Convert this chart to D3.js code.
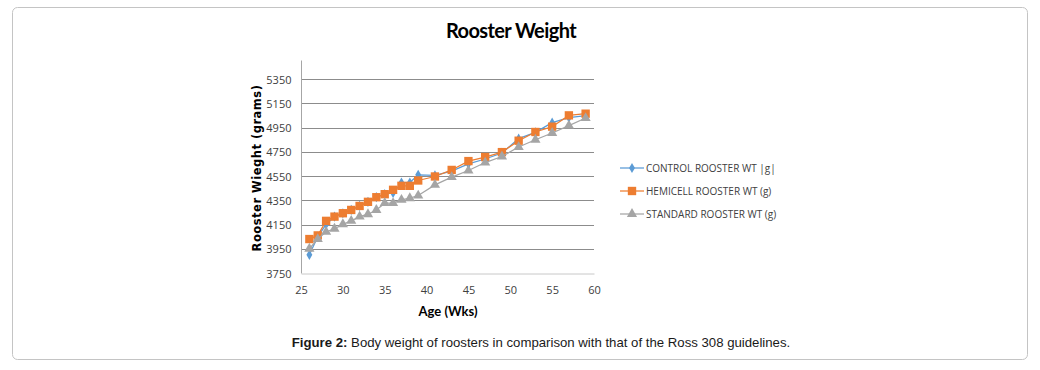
<!DOCTYPE html>
<html>
<head>
<meta charset="utf-8">
<style>
  body { margin: 0; background: #fff; }
  .grid line { stroke: #8c8c8c; stroke-width: 1; }
  .tick text { font-family: "Open Sans", Arial, sans-serif; font-size: 11px; fill: #404040; }
  .legend text { font-family: "Open Sans", Arial, sans-serif; font-size: 10px; fill: #404040; }
</style>
</head>
<body>
<svg id="chart"></svg>
<script src="https://cdn.jsdelivr.net/npm/d3@7"></script>
<script>
  let width = 1040, height = 370;

  let weeks    = [26, 27, 28, 29, 30, 31, 32, 33, 34, 35, 36, 37, 38, 39, 41, 43, 45, 47, 49, 51, 53, 55, 57, 59];
  let control  = [3900, 4050, 4150, 4215, 4243, 4270, 4303, 4337, 4375, 4400, 4410, 4496, 4496, 4560, 4555, 4590, 4650, 4690, 4740, 4858, 4910, 4990, 5032, 5048];
  let hemicell = [4030, 4060, 4180, 4215, 4243, 4270, 4303, 4337, 4375, 4400, 4436, 4469, 4469, 4513, 4546, 4600, 4673, 4706, 4747, 4841, 4913, 4957, 5050, 5064];
  let standard = [3950, 4030, 4090, 4115, 4152, 4180, 4215, 4235, 4270, 4326, 4326, 4353, 4367, 4389, 4477, 4541, 4595, 4661, 4711, 4789, 4849, 4905, 4965, 5028];

  let yTicks = [3750, 3950, 4150, 4350, 4550, 4750, 4950, 5150, 5350];
  let xTicks = [25, 30, 35, 40, 45, 50, 55, 60];

  let seriesNames = ["CONTROL ROOSTER WT |g|", "HEMICELL ROOSTER WT (g)", "STANDARD ROOSTER WT (g)"];
  let seriesColors = ["#5b9bd5", "#ed7d31", "#a5a5a5"];
  let seriesShapes = [d3.symbolDiamond, d3.symbolSquare, d3.symbolTriangle];
  let seriesSizes = [30, 70, 45];

  let svg = d3.select("#chart").attr("width", width).attr("height", height);

  // outer frame
  svg.append("rect")
    .attr("x", 12.5).attr("y", 7.5).attr("width", 1015).attr("height", 352)
    .attr("rx", 5).attr("fill", "none").attr("stroke", "#c4c4c4");

  let x = d3.scaleLinear().domain([25, 60]).range([301, 594]);
  let y = d3.scaleLinear().domain([3750, 5350]).range([273, 79]);

  // title
  svg.append("text")
    .attr("x", 511).attr("y", 38).attr("text-anchor", "middle")
    .style("font-family", "Lato, 'Open Sans', sans-serif")
    .style("font-weight", "bold").style("font-size", "20px")
    .style("letter-spacing", "-0.6px")
    .text("Rooster Weight");

  // gridlines
  svg.append("g").attr("class", "grid")
    .selectAll("line").data(yTicks.slice(1)).enter().append("line")
    .attr("x1", x(25)).attr("x2", x(60))
    .attr("y1", d => Math.round(y(d)) + 0.5).attr("y2", d => Math.round(y(d)) + 0.5);

  // y axis
  let yAxis = svg.append("g")
    .attr("transform", "translate(" + (x(25) + 0.5) + ",0.5)")
    .call(d3.axisLeft(y).tickValues(yTicks).tickFormat(d3.format("d")).tickSize(0).tickPadding(10));
  yAxis.select(".domain").attr("d", "M0,60V" + y(3750)).attr("stroke", "#a6a6a6");

  // x axis
  let xAxis = svg.append("g")
    .attr("transform", "translate(0," + (Math.round(y(3750)) + 0.5) + ")")
    .call(d3.axisBottom(x).tickValues(xTicks).tickFormat(d3.format("d")).tickSize(0).tickPadding(13));
  xAxis.select(".domain").attr("stroke", "#c8c8c8");

  // axis titles
  svg.append("text")
    .attr("x", 448).attr("y", 316).attr("text-anchor", "middle")
    .style("font-family", "Lato, 'Open Sans', sans-serif")
    .style("font-weight", "bold").style("font-size", "13px")
    .text("Age (Wks)");

  svg.append("text")
    .attr("transform", "translate(261,168) rotate(-90)")
    .attr("text-anchor", "middle")
    .style("font-family", "'DejaVu Sans', Verdana, sans-serif")
    .style("font-weight", "bold").style("font-size", "11.5px")
    .style("letter-spacing", "0.5px")
    .text("Rooster Wieght (grams)");

  // series
  let allSeries = [control, hemicell, standard];
  let line = d3.line().x(d => x(d.w)).y(d => y(d.v));

  allSeries.forEach((vals, i) => {
    let pts = weeks.map((w, j) => ({ w: w, v: vals[j] }));
    let g = svg.append("g");
    g.append("path").datum(pts)
      .attr("d", line).attr("fill", "none")
      .attr("stroke", seriesColors[i]).attr("stroke-width", 1.25);
    g.selectAll("path.pt").data(pts).enter().append("path")
      .attr("class", "pt")
      .attr("d", d3.symbol().type(seriesShapes[i]).size(seriesSizes[i]))
      .attr("transform", d => "translate(" + x(d.w) + "," + y(d.v) + ")")
      .attr("fill", seriesColors[i]);
  });

  // legend
  let legend = svg.append("g").attr("class", "legend");
  seriesNames.forEach((name, i) => {
    let ly = 168 + i * 23;
    legend.append("line")
      .attr("x1", 620).attr("x2", 644).attr("y1", ly).attr("y2", ly)
      .attr("stroke", seriesColors[i]).attr("stroke-width", 1.25);
    legend.append("path")
      .attr("d", d3.symbol().type(seriesShapes[i]).size(seriesSizes[i]))
      .attr("transform", "translate(632," + ly + ")")
      .attr("fill", seriesColors[i]);
    legend.append("text")
      .attr("x", 646).attr("y", ly + 3.5)
      .text(name);
  });

  // caption
  let cap = svg.append("text")
    .attr("x", 541).attr("y", 347).attr("text-anchor", "middle")
    .style("font-family", "'Liberation Sans', Arial, sans-serif")
    .style("font-size", "13.2px").attr("fill", "#1a1a1a");
  cap.append("tspan").style("font-weight", "bold").text("Figure 2:");
  cap.append("tspan").text(" Body weight of roosters in comparison with that of the Ross 308 guidelines.");
</script>
</body>
</html>
